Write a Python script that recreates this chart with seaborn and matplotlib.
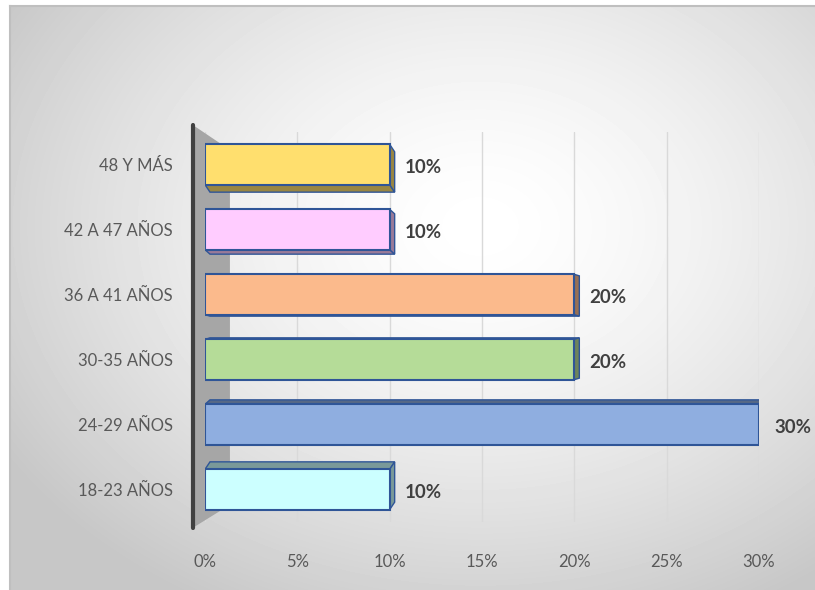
import numpy as np
import pandas as pd
import matplotlib
matplotlib.use("Agg")
import matplotlib.pyplot as plt
from matplotlib.patches import Polygon
from matplotlib.lines import Line2D
from matplotlib.colors import to_rgb
import seaborn as sns

# datos del grafico (de arriba hacia abajo)
grupos = ["48 Y MÁS", "42 A 47 AÑOS", "36 A 41 AÑOS", "30-35 AÑOS", "24-29 AÑOS", "18-23 AÑOS"]
porcentajes = [0.10, 0.10, 0.20, 0.20, 0.30, 0.10]
colores = ["#FFDF6E", "#FFCCFF", "#FBBA8C", "#B5DC98", "#8FAEE0", "#CCFFFF"]
ticks_x = [0, 0.05, 0.10, 0.15, 0.20, 0.25, 0.30]
etiquetas_x = ["0%", "5%", "10%", "15%", "20%", "25%", "30%"]

df = pd.DataFrame({"grupo": grupos, "pct": porcentajes})

sns.set_theme(style="white")
plt.rcParams["font.family"] = ["Lato", "DejaVu Sans"]

fig = plt.figure(figsize=(8.15, 5.90), dpi=100, facecolor="white")

# area del grafico con degradado radial
bg = fig.add_axes([10 / 815, 0, 805 / 815, 584 / 590], zorder=0)
yy, xx = np.mgrid[0:584, 0:805]
r = np.hypot((xx - 470) / 560, (yy - 220) / 430)
shade = 1 - 0.22 * np.clip(r, 0, 1) ** 1.5
bg.imshow(shade, cmap="gray", vmin=0, vmax=1, aspect="auto", extent=[0, 1, 0, 1])
bg.set_xticks([])
bg.set_yticks([])
for side, s in bg.spines.items():
    s.set_color("#BFBFBF")
    s.set_linewidth(1.5)
    s.set_visible(side in ("top", "left"))

ax = fig.add_axes([205 / 815, 1 - 522 / 590, 554 / 815, 390 / 590], zorder=1)
ax.patch.set_alpha(0)

sns.barplot(data=df, x="pct", y="grupo", hue="grupo", palette=colores, saturation=1,
            width=0.62, edgecolor="#2F5597", linewidth=1.5, legend=False,
            ax=ax, zorder=3)

ax.set_xlim(0, 0.30)
ax.set_ylim(5.5, -0.5)

# caras laterales para simular la profundidad 3D
px_x = 0.30 / 554
px_y = 6.0 / 390
for i, p in enumerate(ax.patches[:len(grupos)]):
    x0, y0, w, h = p.get_x(), p.get_y(), p.get_width(), p.get_height()
    dx = 5 * px_x
    dy = (2.5 - i) * 3 * px_y
    dark = tuple(c * 0.6 for c in to_rgb(p.get_facecolor()))
    yb = y0 + h if dy > 0 else y0
    cara = Polygon([(x0, yb), (x0 + w, yb), (x0 + w + dx, yb + dy), (x0 + dx, yb + dy)],
                   closed=True, facecolor=dark, edgecolor="#2F5597", lw=1, zorder=2)
    lado = Polygon([(x0 + w, y0), (x0 + w + dx, y0 + dy), (x0 + w + dx, y0 + h + dy), (x0 + w, y0 + h)],
                   closed=True, facecolor=dark, edgecolor="#2F5597", lw=1, zorder=2)
    ax.add_patch(cara)
    ax.add_patch(lado)

# etiquetas de datos
for i, v in enumerate(porcentajes):
    ax.annotate(f"{v:.0%}", xy=(v, i), xytext=(11, -2), textcoords="offset points",
                va="center", ha="left", fontsize=13.5, fontweight="bold",
                color="#404040", annotation_clip=False)

ax.set_xticks(ticks_x)
ax.set_xticklabels(etiquetas_x)
ax.xaxis.grid(True, color="#D9D9D9", lw=1)
ax.set_axisbelow(True)
ax.set_xlabel("")
ax.set_ylabel("")
for s in ax.spines.values():
    s.set_visible(False)
ax.tick_params(axis="x", length=0, pad=23, labelsize=12, labelcolor="#595959")
ax.tick_params(axis="y", length=0, pad=23, labelsize=12, labelcolor="#595959")

# pared lateral gris y eje vertical
wall = Polygon([(-0.022, 1.018), (0.045, 0.954), (0.045, 0.044), (-0.022, -0.015)],
               closed=True, transform=ax.transAxes, facecolor="#A6A6A6",
               edgecolor="none", zorder=1, clip_on=False)
ax.add_patch(wall)
ax.add_line(Line2D([-0.022, -0.022], [-0.015, 1.018], transform=ax.transAxes,
                   color="#404040", lw=3, zorder=4, clip_on=False))

fig.savefig("out.png", dpi=100)
